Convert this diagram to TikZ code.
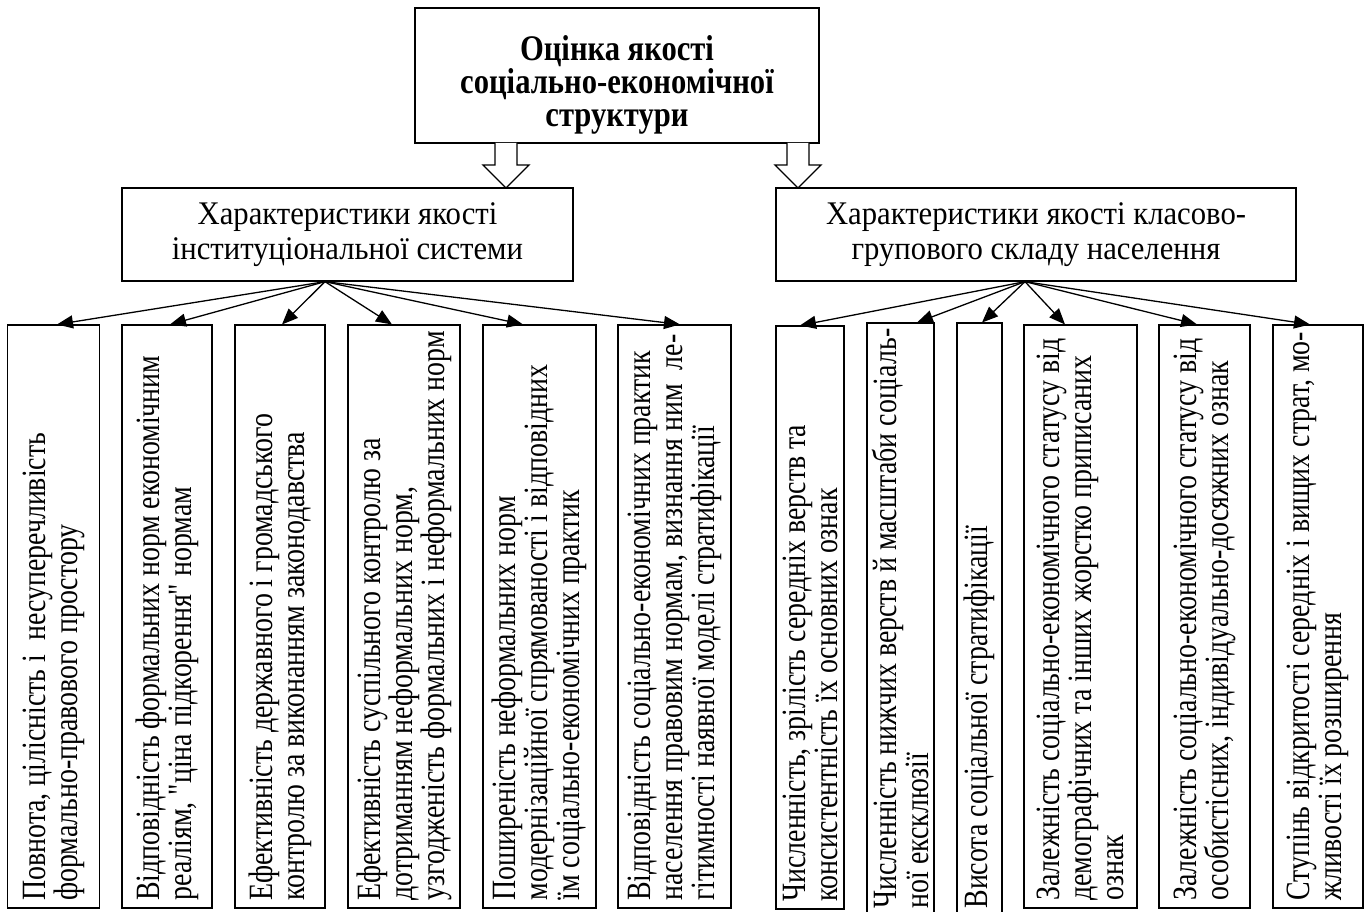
\documentclass[tikz,border=0pt]{standalone}
\usepackage{fontspec}
\setmainfont{Liberation Serif}[Ligatures=TeXOff]
\usetikzlibrary{arrows.meta,calc}

\begin{document}
\begin{tikzpicture}[x=1pt, y=1pt,
    box/.style={draw, line width=1.3pt, align=center, inner sep=0pt},
    head/.style={box, xscale=0.85, font=\bfseries\fontsize{36}{33}\selectfont},
    group/.style={box, xscale=0.93, font=\fontsize{33}{35}\selectfont},
    leaf/.style={box, rotate=90, xscale=0.82, minimum width=711pt, text width=711pt, inner xsep=0pt, align=flush left,
        font=\fontsize{34}{32}\selectfont, execute at begin node={\leftskip=9pt}},
    longleaf/.style={leaf, minimum width=723pt, text width=723pt},
    arr/.style={-{Triangle[length=16pt,width=13pt]}, line width=1.3pt},
    hollow/.style={draw, line width=1.3pt, fill=white}
]
    \useasboundingbox (0,0) rectangle (1371,-912);

    % top level
    \node[head, minimum width=475pt, minimum height=135pt] (top) at (617,-75.5) {\rule{0pt}{43pt}Оцінка якості\\ соціально-економічної\\ структури};

    % second level
    \node[group, minimum width=485pt, minimum height=93pt] (inst) at (347.5,-234.5) {Характеристики якості\\ інституціональної системи};
    \node[group, minimum width=559pt, minimum height=93pt] (strat) at (1036,-234.5) {Характеристики якості класово-\\ групового складу населення};

    % block arrows
    \draw[hollow] (495,-143) -- (495,-165) -- (483,-165) -- (506,-188) -- (529,-165) -- (517,-165) -- (517,-143);
    \draw[hollow] (787,-143) -- (787,-165) -- (775,-165) -- (798,-188) -- (821,-165) -- (809,-165) -- (809,-143);

    % institutional criteria
    \node[leaf, minimum height=92pt] (i1) at (53.5,-616.5) {Повнота, цілісність і~~несуперечливість\\ формально-правового простору};
    \node[leaf, minimum height=90pt] (i2) at (167,-616.5) {Відповідність формальних норм економічним\\ реаліям, "ціна підкорення" нормам};
    \node[leaf, minimum height=90pt] (i3) at (280,-616.5) {Ефективність державного і громадського\\ контролю за виконанням законодавства};
    \node[leaf, minimum height=112pt] (i4) at (404,-616.5) {Ефективність суспільного контролю за\\ дотриманням неформальних норм,\\ узгодженість формальних і неформальних норм};
    \node[leaf, minimum height=113pt] (i5) at (539.5,-616.5) {Поширеність неформальних норм\\ модернізаційної спрямованості і відповідних\\ їм соціально-економічних практик};
    \node[leaf, minimum height=113pt] (i6) at (674.5,-616.5) {Відповідність соціально-економічних практик\\ населення правовим нормам, визнання ним~~ле-\\ гітимності наявної моделі стратифікації};

    % class-group criteria
    \node[leaf, minimum height=68pt] (s1) at (810,-617.5) {Численність, зрілість середніх верств та\\ консистентність їх основних ознак};
    \node[longleaf, minimum height=67pt] (s2) at (900.5,-619.5) {Численність нижчих верств й масштаби соціаль-\\ ної ексклюзії};
    \node[longleaf, minimum height=45pt] (s3) at (979.5,-619.5) {Висота соціальної стратифікації};
    \node[leaf, minimum height=113pt] (s4) at (1080.5,-616.5) {Залежність соціально-економічного статусу від\\ демографічних та інших жорстко приписаних\\ ознак};
    \node[leaf, minimum height=91pt] (s5) at (1204.5,-616.5) {Залежність соціально-економічного статусу від\\ особистісних, індивідуально-досяжних ознак};
    \node[leaf, minimum height=90pt] (s6) at (1318,-616.5) {Ступінь відкритості середніх і вищих страт, мо-\\ жливості їх розширення};

    % arrows to criteria
    \draw[arr] ([xshift=-22.5pt]inst.south) -- ([xshift=3.5pt]i1.east);
    \draw[arr] ([xshift=-22.5pt]inst.south) -- ([xshift=3pt]i2.east);
    \draw[arr] ([xshift=-22.5pt]inst.south) -- ([xshift=2pt]i3.east);
    \draw[arr] ([xshift=-22.5pt]inst.south) -- ([xshift=-12pt]i4.east);
    \draw[arr] ([xshift=-22.5pt]inst.south) -- ([xshift=-16.5pt]i5.east);
    \draw[arr] ([xshift=-22.5pt]inst.south) -- ([xshift=5.5pt]i6.east);

    \draw[arr] ([xshift=-11pt]strat.south) -- ([xshift=-10pt]s1.east);
    \draw[arr] ([xshift=-11pt]strat.south) -- ([xshift=16.5pt]s2.east);
    \draw[arr] ([xshift=-11pt]strat.south) -- ([xshift=2.5pt]s3.east);
    \draw[arr] ([xshift=-11pt]strat.south) -- ([xshift=-15.5pt]s4.east);
    \draw[arr] ([xshift=-11pt]strat.south) -- ([xshift=-7.5pt]s5.east);
    \draw[arr] ([xshift=-11pt]strat.south) -- ([xshift=-8pt]s6.east);
\end{tikzpicture}
\end{document}
